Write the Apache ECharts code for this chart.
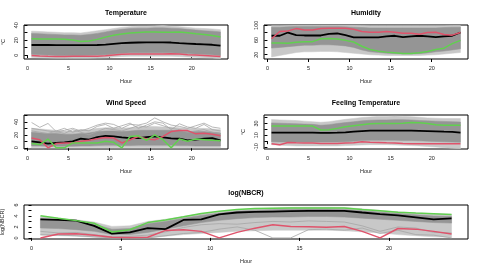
<!DOCTYPE html>
<html><head><meta charset="utf-8">
<script src="https://cdn.jsdelivr.net/npm/echarts@6/dist/echarts.min.js"></script>
<style>html,body{margin:0;padding:0;background:#fff}#c{width:480px;height:270px}</style>
</head><body><div id="c"></div>
<script>
const hours = [0.5,1.5,2.5,3.5,4.5,5.5,6.5,7.5,8.5,9.5,10.5,11.5,12.5,13.5,14.5,15.5,16.5,17.5,18.5,19.5,20.5,21.5,22.5,23.5];
const hourTicks = [0,5,10,15,20];

// Temperature
const tempMean  = [13.5,13.5,13.5,13.4,13.3,13.2,13.2,13.3,13.5,14.0,15.0,15.9,16.5,16.8,17.0,17.0,17.0,16.8,16.0,15.4,14.8,14.3,13.8,12.6];
const tempGreen = [21.7,21.6,21.5,21.4,21.3,20.2,18.3,18.9,21.0,24.0,26.5,28.2,29.5,30.2,30.7,30.9,30.6,30.5,30.9,29.8,28.5,27.5,26.2,24.3];
const tempRed   = [-0.4,-1.2,-1.6,-1.7,-1.7,-1.6,-1.5,-1.5,-1.4,-1.0,0.0,1.0,1.4,1.5,1.6,1.6,1.6,1.8,1.4,0.6,0.0,-0.6,-1.3,-2.0];
const tempOuterHi = [32,31.5,31,30.5,30,30,29.5,31,32.5,34,35.5,37,38,38.5,38.5,39,39.5,38.5,38,37,36,35.5,35,34];
const tempInnerHi = [29,28.5,28,27.5,27,27,26.5,27.5,29,31,33,34.5,35.5,36,36,36.5,36.5,36,35.5,34.5,33.5,32.5,32,31];
const tempInnerLo = [1,0.5,0,-0.5,-0.5,-0.5,-0.5,-0.3,0,0.5,1.5,2.5,3,3,3,3,3,3,2.5,2,1.5,1,0.5,-0.5];
const tempOuterLo = [-3,-3.5,-4,-4.2,-4.2,-4.3,-4.3,-4.2,-4,-3.5,-2.5,-1.8,-1.5,-1.5,-1.5,-1.5,-1.5,-1.5,-2,-2.5,-3,-3.5,-4,-5];
const tempTicks = [0,10,20,30,40];
const tempLabels = [0,20,40];

// Humidity
const humMean  = [71.6,71.6,80.4,73.3,72.4,72.4,72.4,76.9,77.8,73.3,67.1,67.1,67.1,67.1,69.8,71.6,68.0,69.8,71.6,69.8,68.0,69.8,71.6,80.4];
const humGreen = [52,52,51.1,53.8,55.6,55.6,63.6,64.4,62.7,59.1,54.7,43.1,34.2,29.8,27.1,25.3,23.6,23.6,25.3,28.9,34.2,37.8,50.2,59.1];
const humRed   = [63.6,83.1,84.9,91.1,87.6,87.6,91.1,92.0,92.0,92.0,89.3,83.1,81.3,81.3,83.1,81.3,78.7,78.7,76.0,80.4,81.3,75.1,73.3,80.4];
const humOuterHi = [99,99,99.5,100,100,100,100,100,100,100,100,99.5,99,99,99,99,99,99,99,99,99,99,99.5,99.5];
const humInnerHi = [95,95,96,97,97,97,97,97,97,96,95,94,93,93,93,93,93,93,93,93,93,94,95,95];
const humInnerLo = [38,40,42,44,46,46,47,47,46,44,40,33,28,26,24,23,22,22,23,25,28,30,33,36];
const humOuterLo = [14,18,22,26,28,28,29,29,28,26,24,22,20,19,18,18,18,18,18,19,20,22,24,26];
const humTicks = [20,40,60,80,100];
const humLabels = [20,60,100];

// Wind Speed
const windMean  = [10,8.5,6.5,7.5,8.5,10,14,12.5,16.5,18.5,17.5,16,15,15,16.5,17.5,16,14.5,14,11.5,12.5,14,15,11.5];
const windGreen = [6.5,5,13.5,0,0,7.5,7.5,7.5,7.5,10,8.5,0,17.5,18.5,11.5,20,12.5,0,13.5,10,13.5,12.5,11.5,11];
const windRed   = [15,12.5,0,6.5,7.5,7.5,10,11.5,14,16,15,7.5,12.5,17.5,13.5,12.5,17.5,25,26.5,26.5,21.5,22.5,21,18.5];
const windOuterHi = [30,29,28,27,26,26,27,28,30,31,31,30,31,32,33,33,32,32,31,30,30,30,29,28];
const windInnerHi = [24,23,22,22,21,21,22,23,25,26,26,25,26,27,27,27,27,27,26,25,25,25,24,23];
const windInnerLo = [3,3,2.5,2.5,2.5,2.5,3,3,3.5,4,4,3.5,3.5,4,4,4,4,4,3.5,3.5,3,3,3,3];
const windOuterLo = [0,0,0,0,0,0,0,0,0,0,0,0,0,0,0,0,0,0,0,0,0,0,0,0];
const windGrey1 = [39,31.5,37.5,25,22,28,24,20,25,30,28,26,30,34,32,38,34,30,28,24,26,28,24,22];
const windGrey2 = [30,28,26,24,27,30,26,30,35,38,36,30,36,35,38,46,40,35,33,30,34,38,32,30];
const windGrey3 = [26,24,22,26,30,24,28,26,33,36,30,34,38,30,35,40,38,28,37,32,30,36,28,26];
const windTicks = [0,10,20,30,40,50];
const windLabels = [0,20,40];

// Feeling Temperature
const feelMean  = [14.4,14.4,14.4,14.4,14.4,14.4,14.2,14.2,14.4,15,16.1,17.2,17.8,17.8,17.8,18,18,17.8,17.5,17.2,16.7,16.1,15.6,14.4];
const feelGreen = [25.6,25.6,25.6,25.6,25.6,25.6,18.9,19.4,21.7,24.4,26.1,27.8,29.4,30,30,30,30.6,31.7,31.1,30,27.8,27.2,27.2,27.2];
const feelRed   = [-4.4,-6.1,-2.2,-2.8,-3.3,-3.3,-3.9,-3.9,-3.9,-3.3,-2.8,-1.1,-1.7,-2.2,-2.8,-3.3,-3.9,-4.4,-4.4,-4.4,-4.4,-4.4,-4.4,-4.4];
const feelOuterHi = [36.7,36,35.5,35,34,33,32,33,35,37,38.5,40,41,42,42,42.5,42,41.5,40.5,39.5,39,38.5,38.5,38.3];
const feelInnerHi = [31,30.5,30,29.5,29,28.5,27,28,30,31.5,33,34.5,35.5,36,36,36.5,36.5,36,35,34.5,34,33.5,33,32.5];
const feelInnerLo = [-1,-1.5,-1.5,-1.5,-1.5,-1.5,-1.5,-1.5,-1.5,-1,0,1,1.5,1.5,1.5,1.5,1,1,0.5,0,-0.5,-1,-1.5,-2];
const feelOuterLo = [-6,-7,-7.5,-8,-8,-8,-8,-8,-8,-7.5,-7,-6.5,-6,-6,-6,-6.5,-7,-7.5,-8,-9,-10,-11,-12,-13];
const feelTicks = [-10,0,10,20,30,40];
const feelLabels = [-10,10,30];

// log(NBCR)
const nbcrMean  = [3.39,3.27,3.15,2.2,0.77,1.01,1.78,1.6,3.27,3.39,4.28,4.63,4.75,4.81,4.87,4.93,4.93,4.93,4.63,4.34,4.1,3.74,3.39,3.57];
const nbcrGreen = [4.04,3.57,3.15,2.67,1.07,1.49,2.79,3.27,3.86,4.46,4.87,5.17,5.35,5.41,5.47,5.47,5.47,5.47,5.17,4.93,4.69,4.52,4.4,4.28];
const nbcrRed   = [0,0.71,0.77,0.48,0.12,0.06,0.12,1.37,1.49,1.19,0,1.01,1.78,2.38,2.08,2.02,1.96,2.08,1.19,0,1.72,1.6,1.19,0.71];
const nbcrOuterHi = [3.9,3.6,3.3,2.9,2.1,2.2,3.0,3.4,3.9,4.4,4.8,5.1,5.3,5.45,5.55,5.6,5.6,5.55,5.3,5.0,4.75,4.55,4.4,4.3];
const nbcrInnerHi = [3.5,3.3,3.0,2.5,1.6,1.7,2.6,3.0,3.6,4.1,4.5,4.85,5.05,5.15,5.2,5.25,5.25,5.2,4.95,4.7,4.45,4.2,4.0,3.9];
const nbcrInnerLo = [1.8,1.7,1.5,1.2,0.6,0.6,1.0,1.6,2.2,2.8,3.2,3.5,3.7,3.8,3.8,3.9,3.9,3.8,3.6,3.4,3.2,3.0,2.8,2.7];
const nbcrOuterLo = [0.5,0.4,0.3,0.1,0,0,0,0.3,0.6,0.8,1.0,1.2,1.3,1.4,1.4,1.4,1.4,1.3,1.1,0.9,0.6,0.4,0.2,0.1];
const nbcrGrey1 = [0.6,0.5,0.4,0.2,0,0,0,0.4,0.8,1.0,1.6,2.0,1.4,0,0,1.5,1.6,1.4,1.8,0.8,1.4,0.6,0.5,0.0];
const nbcrGrey2 = [1.2,0.9,1.0,0.6,0.2,0.3,0.5,1.1,1.9,2.4,2.6,2.5,2.8,3.0,2.9,3.1,3.0,2.9,2.2,1.2,2.0,1.8,1.0,0.9];
const nbcrTicks = [0,1,2,3,4,5,6];
const nbcrLabels = [0,2,4,6];

const FONT = 'Liberation Sans';
const TXT = '#222';
const panels = [
  {title:'Temperature', grid:{left:24,top:25,width:204,height:34}, tx:126, ty:13,
   ymin:-5.2, ymax:40.2, ticks:tempTicks, labels:tempLabels, yname:'°C', ynameGap:18,
   mean:tempMean, green:tempGreen, red:tempRed, band:[tempOuterLo,tempInnerLo,tempInnerHi,tempOuterHi], extra:[]},
  {title:'Humidity', grid:{left:264,top:25,width:204,height:34}, tx:366, ty:13,
   ymin:8.4, ymax:100.9, ticks:humTicks, labels:humLabels, yname:'', ynameGap:18,
   mean:humMean, green:humGreen, red:humRed, band:[humOuterLo,humInnerLo,humInnerHi,humOuterHi], extra:[]},
  {title:'Wind Speed', grid:{left:24,top:115,width:204,height:34}, tx:126, ty:103,
   ymin:-1.8, ymax:50.5, ticks:windTicks, labels:windLabels, yname:'', ynameGap:18,
   mean:windMean, green:windGreen, red:windRed, band:[windOuterLo,windInnerLo,windInnerHi,windOuterHi], extra:[windGrey1,windGrey2,windGrey3]},
  {title:'Feeling Temperature', grid:{left:264,top:115,width:204,height:34}, tx:366, ty:103,
   ymin:-13.3, ymax:44.4, ticks:feelTicks, labels:feelLabels, yname:'°C', ynameGap:18,
   mean:feelMean, green:feelGreen, red:feelRed, band:[feelOuterLo,feelInnerLo,feelInnerHi,feelOuterHi], extra:[]},
  {title:'log(NBCR)', grid:{left:24,top:205,width:444,height:34}, tx:246, ty:193,
   ymin:-0.2, ymax:6.0, ticks:nbcrTicks, labels:nbcrLabels, yname:'log(NBCR)', ynameGap:14,
   mean:nbcrMean, green:nbcrGreen, red:nbcrRed, band:[nbcrOuterLo,nbcrInnerLo,nbcrInnerHi,nbcrOuterHi], extra:[nbcrGrey1,nbcrGrey2]}
];

const pairs = arr => hours.map((h,i)=>[h, arr[i]]);

function bandSeries(i, lo, hi, color){
  return {type:'custom', xAxisIndex:i, yAxisIndex:i, silent:true, animation:false, clip:true,
    data: hours.map((h,j)=>[h, lo[j], hi[j]]),
    encode:{x:0, y:[1,2]},
    renderItem:function(params, api){
      if (params.dataIndex !== 0) return null;
      const pts = [];
      for (let j=0;j<hours.length;j++) pts.push(api.coord([hours[j], hi[j]]));
      for (let j=hours.length-1;j>=0;j--) pts.push(api.coord([hours[j], lo[j]]));
      return {type:'polygon', shape:{points:pts}, style:{fill:color, stroke:color, lineWidth:0.5}};
    }};
}

const grid=[], xAxis=[], yAxis=[], series=[], graphic=[];
panels.forEach((p,i)=>{
  grid.push(Object.assign({show:true, borderColor:'#000', borderWidth:1, backgroundColor:'transparent', outerBoundsMode:'none'}, p.grid));
  xAxis.push({type:'value', gridIndex:i, min:-0.42, max:24.42,
    name:'Hour', nameLocation:'middle', nameGap:19, nameTextStyle:{fontFamily:FONT,fontSize:5.5,color:TXT},
    axisLine:{show:false}, splitLine:{show:false},
    axisTick:{show:true, inside:false, length:3, lineStyle:{color:'#000',width:1}, customValues:hourTicks},
    axisLabel:{show:true, margin:6, fontFamily:FONT, fontSize:5.5, color:TXT, customValues:hourTicks}});
  yAxis.push({type:'value', gridIndex:i, min:p.ymin, max:p.ymax,
    name:p.yname, nameLocation:'middle', nameGap:p.ynameGap, nameTextStyle:{fontFamily:FONT,fontSize:5.5,color:TXT},
    axisLine:{show:false}, splitLine:{show:false},
    axisTick:{show:true, inside:false, length:3, lineStyle:{color:'#000',width:1}, customValues:p.ticks},
    axisLabel:{show:true, rotate:90, margin:5, fontFamily:FONT, fontSize:5.5, color:TXT, customValues:p.labels}});
  const base = {type:'line', xAxisIndex:i, yAxisIndex:i, symbol:'none', showSymbol:false, silent:true, animation:false};
  const [oLo,iLo,iHi,oHi] = p.band;
  series.push(bandSeries(i, oLo, oHi, '#c8c8c8'));
  series.push(bandSeries(i, iLo, iHi, '#959595'));
  p.extra.forEach(a=>series.push(Object.assign({}, base, {data:pairs(a), lineStyle:{color:'#a6a6a6', width:0.8}})));
  series.push(Object.assign({}, base, {data:pairs(p.mean), lineStyle:{color:'#000', width:1.8}}));
  series.push(Object.assign({}, base, {data:pairs(p.red), lineStyle:{color:'#DF536B', width:1.5}}));
  series.push(Object.assign({}, base, {data:pairs(p.green), lineStyle:{color:'#61D04F', width:1.5}}));
  graphic.push({type:'text', x:p.tx, y:p.ty, style:{text:p.title, fill:'#000', font:'bold 7px "'+FONT+'"', textAlign:'center', textVerticalAlign:'middle'}});
});

const chart = echarts.init(document.getElementById('c'), null, {renderer:'canvas'});
chart.setOption({animation:false, backgroundColor:'#fff', grid, xAxis, yAxis, series, graphic});
</script></body></html>
